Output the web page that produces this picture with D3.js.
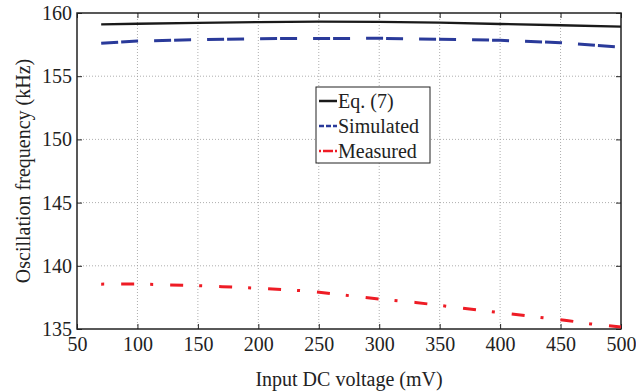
<!DOCTYPE html>
<html><head><meta charset="utf-8">
<script src="https://cdn.jsdelivr.net/npm/d3@7"></script>
<style>body{margin:0;background:#fff}svg{display:block}</style>
</head><body><svg id="c" width="636" height="391"></svg>
<script>
const xTicks = [50,100,150,200,250,300,350,400,450,500];
const yTicks = [135,140,145,150,155,160];
const eqX = [70,100,150,200,250,300,350,400,450,500];
const eqY = [159.1,159.15,159.22,159.28,159.31,159.3,159.24,159.13,159.03,158.92];
const simX = [70,100,150,200,250,300,350,400,450,500];
const simY = [157.6,157.78,157.89,157.97,157.98,158.0,157.92,157.84,157.65,157.3];
const measX = [70,100,150,170,200,225,245,260,300,330,350,390,430,455,475,500];
const measY = [138.55,138.56,138.43,138.35,138.22,138.1,137.97,137.8,137.37,137.1,136.87,136.4,135.95,135.68,135.4,135.15];
const seriesNames = ["Eq. (7)","Simulated","Measured"];

const FONT = '"Liberation Serif"';
const svg = d3.select("#c");
const L=77,R=621,T=13,B=329;
const x = d3.scaleLinear().domain([50,500]).range([L,R]);
const y = d3.scaleLinear().domain([135,160]).range([B,T]);

// grid
const g = svg.append("g");
g.selectAll(".gx").data(xTicks.slice(1,-1)).enter().append("line")
 .attr("x1",d=>x(d)).attr("x2",d=>x(d)).attr("y1",T).attr("y2",B)
 .attr("stroke","#999").attr("stroke-width",0.8).attr("stroke-dasharray","1,2");
g.selectAll(".gy").data(yTicks.slice(1,-1)).enter().append("line")
 .attr("y1",d=>y(d)).attr("y2",d=>y(d)).attr("x1",L).attr("x2",R)
 .attr("stroke","#999").attr("stroke-width",0.8).attr("stroke-dasharray","1,2");

// axes
const ax = svg.append("g").attr("transform",`translate(0,${B})`)
 .call(d3.axisBottom(x).tickValues(xTicks).tickSizeInner(-5).tickSizeOuter(0).tickPadding(8));
const ay = svg.append("g").attr("transform",`translate(${L},0)`)
 .call(d3.axisLeft(y).tickValues(yTicks).tickSizeInner(-5).tickSizeOuter(0).tickPadding(5));
const axT = svg.append("g").attr("transform",`translate(0,${T})`)
 .call(d3.axisTop(x).tickValues(xTicks).tickSizeInner(-5).tickSizeOuter(0).tickFormat(""));
const ayR = svg.append("g").attr("transform",`translate(${R},0)`)
 .call(d3.axisRight(y).tickValues(yTicks).tickSizeInner(-5).tickSizeOuter(0).tickFormat(""));
[ax,ay,axT,ayR].forEach(a=>{a.attr("font-family",FONT).attr("font-size",20);
 a.select(".domain").remove();a.selectAll("line").attr("stroke","#222").attr("stroke-width",1);
 a.selectAll("text").attr("fill","#222").attr("font-family",FONT).attr("font-size",20);});
svg.append("rect").attr("x",L).attr("y",T).attr("width",R-L).attr("height",B-T)
 .attr("fill","none").attr("stroke","#222").attr("stroke-width",1.5);

const line = d3.line().x(d=>x(d[0])).y(d=>y(d[1]));
const z = (a,b)=>a.map((v,i)=>[v,b[i]]);
svg.append("path").datum(z(eqX,eqY)).attr("d",line).attr("fill","none").attr("stroke","#1a1a1a").attr("stroke-width",2.3);
svg.append("path").datum(z(simX,simY)).attr("d",line).attr("fill","none").attr("stroke","#2a3a9a").attr("stroke-width",3).attr("stroke-dasharray","17,3,17,16");
svg.append("path").datum(z(measX,measY)).attr("d",line).attr("fill","none").attr("stroke","#ee1c25").attr("stroke-width",3).attr("stroke-dasharray","3,17,13,16");

// legend
const lg = svg.append("g");
lg.append("rect").attr("x",316).attr("y",87).attr("width",114).attr("height",76).attr("fill","#fff").attr("stroke","#222").attr("stroke-width",1);
const items=[{c:"#1a1a1a",d:null},{c:"#2a3a9a",d:"5,2"},{c:"#ee1c25",d:"2,2,8,0"}];
items.forEach((it,i)=>{
 const yy=101+i*25;
 lg.append("line").attr("x1",319).attr("x2",337).attr("y1",yy).attr("y2",yy).attr("stroke",it.c).attr("stroke-width",2.5).attr("stroke-dasharray",it.d);
 lg.append("text").attr("x",338).attr("y",yy+7).attr("font-family",FONT).attr("font-size",20).attr("fill","#222").text(seriesNames[i]);
});

svg.append("text").attr("x",349).attr("y",386).attr("text-anchor","middle").attr("font-family",FONT).attr("font-size",20).attr("fill","#222").text("Input DC voltage (mV)");
svg.append("text").attr("transform","translate(30,171) rotate(-90)").attr("text-anchor","middle").attr("font-family",FONT).attr("font-size",20).attr("fill","#222").text("Oscillation frequency (kHz)");
</script></body></html>
